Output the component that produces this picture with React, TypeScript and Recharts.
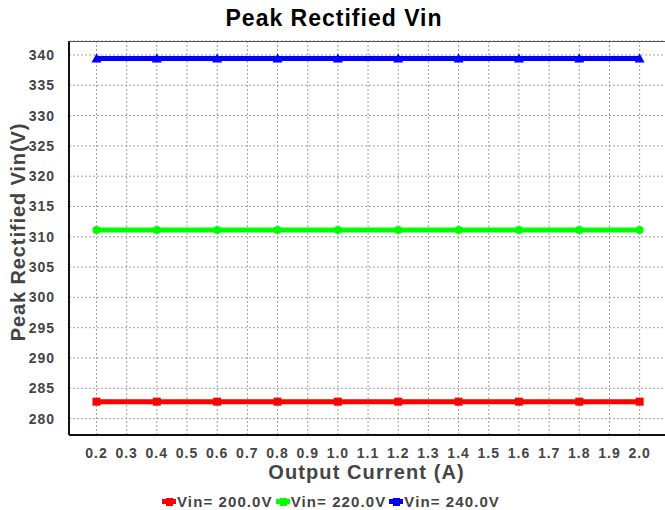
// @ts-nocheck
import { LineChart, Line, XAxis, YAxis, CartesianGrid } from 'recharts';

const currents = [0.2, 0.4, 0.6, 0.8, 1.0, 1.2, 1.4, 1.6, 1.8, 2.0];
const vin200 = [282.8, 282.8, 282.8, 282.8, 282.8, 282.8, 282.8, 282.8, 282.8, 282.8];
const vin220 = [311.1, 311.1, 311.1, 311.1, 311.1, 311.1, 311.1, 311.1, 311.1, 311.1];
const vin240 = [339.4, 339.4, 339.4, 339.4, 339.4, 339.4, 339.4, 339.4, 339.4, 339.4];
const xTicks = [0.2, 0.3, 0.4, 0.5, 0.6, 0.7, 0.8, 0.9, 1.0, 1.1, 1.2, 1.3, 1.4, 1.5, 1.6, 1.7, 1.8, 1.9, 2.0];
const yTicks = [280, 285, 290, 295, 300, 305, 310, 315, 320, 325, 330, 335, 340];

const data = currents.map((c, i) => ({ x: c, a: vin200[i], b: vin220[i], c: vin240[i] }));

const FONT = '"Liberation Sans", Arial, sans-serif';
const TXT = '#444';

function Square({ cx, cy, fill }: any) {
  return <rect x={cx - 4} y={cy - 4} width={8} height={8} fill={fill} />;
}
function Circle({ cx, cy, fill }: any) {
  return <circle cx={cx} cy={cy} r={4} fill={fill} />;
}
function Tri({ cx, cy, fill }: any) {
  return <polygon points={`${cx},${cy - 5} ${cx + 5},${cy + 4} ${cx - 5},${cy + 4}`} fill={fill} />;
}

const legend = [
  { name: 'Vin= 200.0V', color: '#ff0000' },
  { name: 'Vin= 220.0V', color: '#00ff00' },
  { name: 'Vin= 240.0V', color: '#0000ff' },
];

const tickStyle = { fill: TXT, fontSize: 14, fontWeight: 'bold', fontFamily: FONT, letterSpacing: 1 };

export default function App() {
  return (
    <div style={{ position: 'absolute', left: 0, top: 0, width: 665, height: 510, background: '#fff', fontFamily: FONT, overflow: 'hidden' }}>
      <div style={{ position: 'absolute', top: 5, left: 0, width: 668, textAlign: 'center', fontSize: 23, fontWeight: 'bold', color: '#000', letterSpacing: 1 }}>
        Peak Rectified Vin
      </div>
      <LineChart width={700} height={510} data={data} margin={{ top: 41, right: 0, left: 0, bottom: 45 }}>
        <CartesianGrid stroke="#a0a0a0" strokeDasharray="2 2" />
        <XAxis
          dataKey="x"
          type="number"
          domain={[0.109, 2.2]}
          ticks={xTicks}
          allowDataOverflow
          tickFormatter={(v) => v.toFixed(1)}
          tick={tickStyle}
          tickLine={false}
          axisLine={{ stroke: '#111', strokeWidth: 2 }}
          tickMargin={7}
          height={30}
        />
        <YAxis
          type="number"
          domain={[277.3, 342.3]}
          ticks={yTicks}
          allowDataOverflow
          width={69}
          tick={tickStyle}
          tickLine={false}
          axisLine={{ stroke: '#111', strokeWidth: 2 }}
          tickMargin={8}
        />
        <Line dataKey="a" stroke="#ff0000" strokeWidth={5} dot={<Square fill="#ff0000" />} isAnimationActive={false} />
        <Line dataKey="b" stroke="#00ff00" strokeWidth={5} dot={<Circle fill="#00ff00" />} isAnimationActive={false} />
        <Line dataKey="c" stroke="#0000ff" strokeWidth={5} dot={<Tri fill="#0000ff" />} isAnimationActive={false} />
      </LineChart>
      <div style={{ position: 'absolute', left: 69, top: 41, width: 600, height: 0, borderTop: '1.5px solid #555' }} />
      <div style={{ position: 'absolute', top: 461, left: 68, width: 597, textAlign: 'center', fontSize: 20, fontWeight: 'bold', color: TXT, letterSpacing: 1.1 }}>
        Output Current (A)
      </div>
      <div style={{ position: 'absolute', left: 18, top: 232, transform: 'translate(-50%, -50%) rotate(-90deg)', whiteSpace: 'nowrap', fontSize: 20, fontWeight: 'bold', color: TXT, letterSpacing: 0.9 }}>
        Peak Rectified Vin(V)
      </div>
      <div style={{ position: 'absolute', top: 493, left: 0, width: 665, display: 'flex', justifyContent: 'center', fontSize: 15, fontWeight: 'bold', color: TXT, letterSpacing: 1.1 }}>
        {legend.map((l) => (
          <span key={l.name} style={{ display: 'inline-flex', alignItems: 'center', marginRight: 3 }}>
            <span style={{ display: 'inline-block', width: 14, height: 5, background: l.color, marginRight: 1, position: 'relative' }}>
              <span style={{ position: 'absolute', left: 4, top: -1.5, width: 7, height: 8, background: l.color }} />
            </span>
            {l.name}
          </span>
        ))}
      </div>
    </div>
  );
}
